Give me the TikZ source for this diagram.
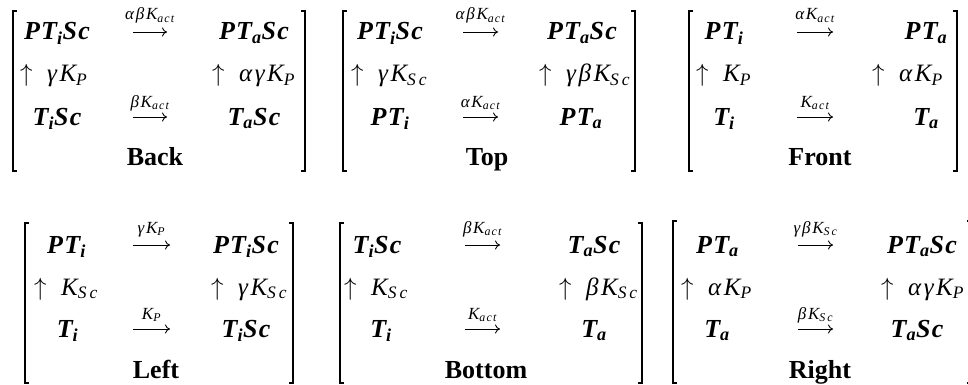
\documentclass[tikz,border=0pt]{standalone}
\usepackage{fontspec}
\setmainfont{Liberation Serif}
\newfontfamily\speciesserif[LetterSpace=5]{Liberation Serif}
\newfontfamily\rateserif[LetterSpace=10]{Liberation Serif}
\usetikzlibrary{arrows.meta}

% type styles
\newcommand\spfont{\fontsize{26}{26}\speciesserif\bfseries\itshape}
\newcommand\rtfont{\fontsize{25}{25}\rateserif\itshape}
\newcommand\lbfont{\fontsize{17}{17}\rateserif\itshape}
\newcommand\ttlfont{\fontsize{26}{26}\selectfont\bfseries}
\newcommand\lo[1]{\textsubscript{#1}}
\newcommand\uparr{\makebox[27pt][l]{$\uparrow$}}
% square bracket pair: left x, right x, top y, bottom y
\newcommand\bracketpair[4]{%
  \draw[brk] (#1+4,#3) -| (#1,#4) -- (#1+4,#4);
  \draw[brk] (#2-4,#3) -| (#2,#4) -- (#2-4,#4);}

\begin{document}
\begin{tikzpicture}[x=1pt,y=-1pt,
  sp/.style={font=\spfont, anchor=base, inner sep=0pt},
  rt/.style={font=\rtfont, anchor=base west, inner sep=0pt},
  lb/.style={font=\lbfont, anchor=base, inner sep=0pt},
  ttl/.style={font=\ttlfont, anchor=base, inner sep=0pt},
  brk/.style={line width=1.3pt},
  rxn/.style={-{Computer Modern Rightarrow[length=5pt,width=9pt]}, line width=0.9pt}]
\useasboundingbox (0,0) rectangle (968,385);

% ---------- Back ----------
\bracketpair{13}{305}{11}{171}
\node[sp] (bk-11) at (57,40) {PT\lo{i}Sc};
\node[sp] (bk-13) at (254,40) {PT\lo{a}Sc};
\coordinate (bk-1s) at (133,32); \coordinate (bk-1e) at (167,32);
\draw[rxn] (bk-1s) -- (bk-1e);
\node[lb] (bk-1k) at (150,20) {αβK\lo{act}};
\node[rt] (bk-21) at (20,82) {\uparr γK\lo{P}};
\node[rt] (bk-23) at (212,82) {\uparr αγK\lo{P}};
\node[sp] (bk-31) at (57,125) {T\lo{i}Sc};
\node[sp] (bk-33) at (254,125) {T\lo{a}Sc};
\coordinate (bk-3s) at (133,117); \coordinate (bk-3e) at (167,117);
\draw[rxn] (bk-3s) -- (bk-3e);
\node[lb] (bk-3k) at (150,107) {βK\lo{act}};
\node[ttl] (bk-t) at (155,165) {Back};

% ---------- Top ----------
\bracketpair{343}{635}{11}{171}
\node[sp] (tp-11) at (390,40) {PT\lo{i}Sc};
\node[sp] (tp-13) at (582,40) {PT\lo{a}Sc};
\coordinate (tp-1s) at (463,32); \coordinate (tp-1e) at (498,32);
\draw[rxn] (tp-1s) -- (tp-1e);
\node[lb] (tp-1k) at (480.5,20) {αβK\lo{act}};
\node[rt] (tp-21) at (351,82) {\uparr γK\lo{S\,c}};
\node[rt] (tp-23) at (539,82) {\uparr γβK\lo{S\,c}};
\node[sp] (tp-31) at (390,125) {PT\lo{i}};
\node[sp] (tp-33) at (581,125) {PT\lo{a}};
\coordinate (tp-3s) at (463,117); \coordinate (tp-3e) at (498,117);
\draw[rxn] (tp-3s) -- (tp-3e);
\node[lb] (tp-3k) at (480.5,107) {αK\lo{act}};
\node[ttl] (tp-t) at (487,165) {Top};

% ---------- Front ----------
\bracketpair{689}{957}{11}{171}
\node[sp] (fr-11) at (724,40) {PT\lo{i}};
\node[sp] (fr-13) at (926,40) {PT\lo{a}};
\coordinate (fr-1s) at (797,32); \coordinate (fr-1e) at (833,32);
\draw[rxn] (fr-1s) -- (fr-1e);
\node[lb] (fr-1k) at (815,20) {αK\lo{act}};
\node[rt] (fr-21) at (696,82) {\uparr K\lo{P}};
\node[rt] (fr-23) at (872,82) {\uparr αK\lo{P}};
\node[sp] (fr-31) at (724,125) {T\lo{i}};
\node[sp] (fr-33) at (926,125) {T\lo{a}};
\coordinate (fr-3s) at (797,117); \coordinate (fr-3e) at (833,117);
\draw[rxn] (fr-3s) -- (fr-3e);
\node[lb] (fr-3k) at (815,107) {K\lo{act}};
\node[ttl] (fr-t) at (820,165) {Front};

% ---------- Left ----------
\bracketpair{25}{293}{223}{383}
\node[sp] (lf-11) at (66.5,253) {PT\lo{i}};
\node[sp] (lf-13) at (246,253) {PT\lo{i}Sc};
\coordinate (lf-1s) at (133,245); \coordinate (lf-1e) at (170,245);
\draw[rxn] (lf-1s) -- (lf-1e);
\node[lb] (lf-1k) at (151.5,233) {γK\lo{P}};
\node[rt] (lf-21) at (34,295) {\uparr K\lo{S\,c}};
\node[rt] (lf-23) at (211,295) {\uparr γK\lo{S\,c}};
\node[sp] (lf-31) at (67.5,337) {T\lo{i}};
\node[sp] (lf-33) at (246,337) {T\lo{i}Sc};
\coordinate (lf-3s) at (133,329); \coordinate (lf-3e) at (170,329);
\draw[rxn] (lf-3s) -- (lf-3e);
\node[lb] (lf-3k) at (151.5,319) {K\lo{P}};
\node[ttl] (lf-t) at (156,378) {Left};

% ---------- Bottom ----------
\bracketpair{340}{642}{223}{383}
\node[sp] (bt-11) at (377,253) {T\lo{i}Sc};
\node[sp] (bt-13) at (594,253) {T\lo{a}Sc};
\coordinate (bt-1s) at (465,245); \coordinate (bt-1e) at (500,245);
\draw[rxn] (bt-1s) -- (bt-1e);
\node[lb] (bt-1k) at (482.5,233) {βK\lo{act}};
\node[rt] (bt-21) at (344,295) {\uparr K\lo{S\,c}};
\node[rt] (bt-23) at (559,295) {\uparr βK\lo{S\,c}};
\node[sp] (bt-31) at (381,337) {T\lo{i}};
\node[sp] (bt-33) at (594,337) {T\lo{a}};
\coordinate (bt-3s) at (465,329); \coordinate (bt-3e) at (500,329);
\draw[rxn] (bt-3s) -- (bt-3e);
\node[lb] (bt-3k) at (482.5,319) {K\lo{act}};
\node[ttl] (bt-t) at (486,378) {Bottom};

% ---------- Right ----------
\bracketpair{673}{971}{221}{383}
\node[sp] (rg-11) at (717.5,253) {PT\lo{a}};
\node[sp] (rg-13) at (922,253) {PT\lo{a}Sc};
\coordinate (rg-1s) at (798,245); \coordinate (rg-1e) at (833,245);
\draw[rxn] (rg-1s) -- (rg-1e);
\node[lb] (rg-1k) at (815.5,233) {γβK\lo{S\,c}};
\node[rt] (rg-21) at (681,295) {\uparr αK\lo{P}};
\node[rt] (rg-23) at (881,295) {\uparr αγK\lo{P}};
\node[sp] (rg-31) at (717,337) {T\lo{a}};
\node[sp] (rg-33) at (917,337) {T\lo{a}Sc};
\coordinate (rg-3s) at (798,329); \coordinate (rg-3e) at (833,329);
\draw[rxn] (rg-3s) -- (rg-3e);
\node[lb] (rg-3k) at (815.5,319) {βK\lo{S\,c}};
\node[ttl] (rg-t) at (820,378) {Right};
\end{tikzpicture}
\end{document}
